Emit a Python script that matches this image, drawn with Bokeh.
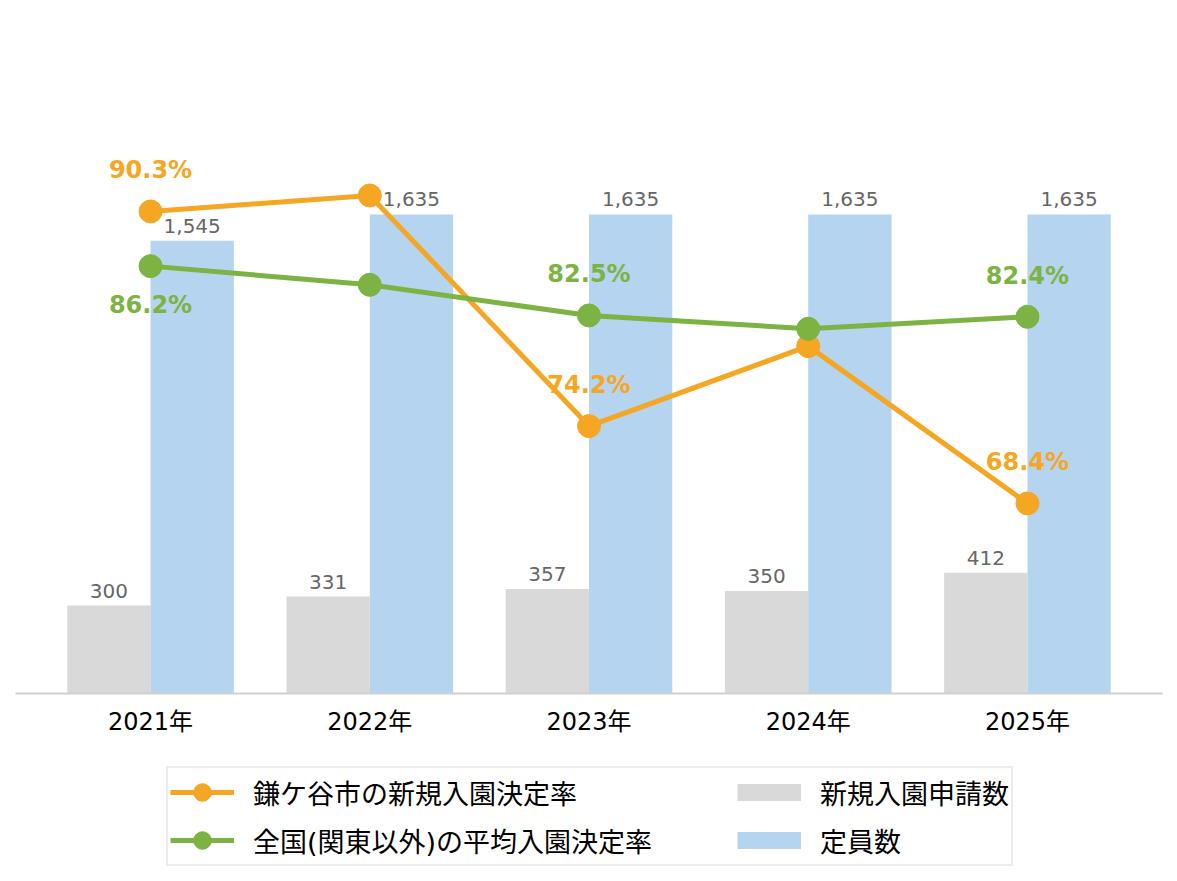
from bokeh.plotting import figure
from bokeh.layouts import column
from bokeh.models import (Range1d, ColumnDataSource, LabelSet, Legend, LegendItem,
                          FixedTicker)
from bokeh.core.properties import value
from bokeh.embed import file_html
from bokeh.resources import INLINE

# ---- data ----
years = ["2021年", "2022年", "2023年", "2024年", "2025年"]
applications = [300, 331, 357, 350, 412]          # 新規入園申請数
capacity = [1545, 1635, 1635, 1635, 1635]         # 定員数
kamagaya_rate = [90.3, 91.5, 74.2, 80.2, 68.4]    # 鎌ケ谷市の新規入園決定率 (%)
national_rate = [86.2, 84.8, 82.5, 81.5, 82.4]    # 全国(関東以外)の平均入園決定率 (%)
kamagaya_labeled = [0, 2, 4]
national_labeled = [0, 2, 4]
series_names = ["鎌ケ谷市の新規入園決定率", "全国(関東以外)の平均入園決定率",
                "新規入園申請数", "定員数"]

ORANGE = "#F5A623"
GREEN = "#7CB342"
GRAY = "#D9D9D9"
BLUE = "#B5D4EF"
FONT = "DejaVu Sans, Noto Sans CJK JP"

idx = list(range(len(years)))
bar_w = 0.38

p = figure(frame_width=1147, frame_height=586, output_backend="svg", toolbar_location=None,
           x_range=Range1d(-0.616, 4.616), y_range=Range1d(0, 2000),
           y_axis_location=None,
           min_border_left=15, min_border_right=15, min_border_top=107,
           min_border_bottom=50)
p.extra_y_ranges = {"rate": Range1d(54.14, 98.1)}
p.outline_line_color = None
p.xgrid.visible = False
p.ygrid.visible = False
p.background_fill_color = "white"
p.border_fill_color = "white"

bars = ColumnDataSource(dict(
    xg=[i - bar_w / 2 for i in idx],
    xb=[i + bar_w / 2 for i in idx],
    app=applications,
    cap=capacity,
    app_txt=[f"{v:,}" for v in applications],
    cap_txt=[f"{v:,}" for v in capacity],
))
p.vbar(x="xg", top="app", width=bar_w, source=bars, color=GRAY, line_color=None)
p.vbar(x="xb", top="cap", width=bar_w, source=bars, color=BLUE, line_color=None)

for col_x, col_y, col_t in (("xg", "app", "app_txt"), ("xb", "cap", "cap_txt")):
    p.add_layout(LabelSet(x=col_x, y=col_y, text=col_t, source=bars,
                          text_align="center", text_baseline="alphabetic",
                          y_offset=8, text_font=value("DejaVu Sans"), text_font_size="20px",
                          text_color="#666666"))

lines = ColumnDataSource(dict(x=idx, kr=kamagaya_rate, nr=national_rate))
p.line("x", "kr", source=lines, color=ORANGE, line_width=5, y_range_name="rate")
p.scatter("x", "kr", source=lines, size=23, color=ORANGE, y_range_name="rate")
p.line("x", "nr", source=lines, color=GREEN, line_width=5, y_range_name="rate")
p.scatter("x", "nr", source=lines, size=23, color=GREEN, y_range_name="rate")

k_src = ColumnDataSource(dict(
    x=kamagaya_labeled,
    y=[kamagaya_rate[i] for i in kamagaya_labeled],
    t=[f"{kamagaya_rate[i]:.1f}%" for i in kamagaya_labeled],
    off=[33 for _ in kamagaya_labeled],
))
n_src = ColumnDataSource(dict(
    x=national_labeled,
    y=[national_rate[i] for i in national_labeled],
    t=[f"{national_rate[i]:.1f}%" for i in national_labeled],
    off=[-47 if i == 0 else 33 for i in national_labeled],
))
for src, colr in ((k_src, ORANGE), (n_src, GREEN)):
    p.add_layout(LabelSet(x="x", y="y", text="t", source=src, y_range_name="rate",
                          y_offset="off", text_align="center", text_baseline="alphabetic",
                          text_font=value("DejaVu Sans"), text_font_size="24px",
                          text_font_style="bold", text_color=colr))

# x axis
ax = p.xaxis[0]
ax.ticker = FixedTicker(ticks=idx)
ax.major_label_overrides = {i: years[i] for i in idx}
ax.major_tick_line_color = None
ax.major_tick_out = 0
ax.major_tick_in = 0
ax.minor_tick_line_color = None
ax.axis_line_color = "#D0D0D0"
ax.axis_line_width = 2
ax.major_label_standoff = 14
ax.major_label_text_font = FONT
ax.major_label_text_font_size = "24px"
ax.major_label_text_color = "#000000"

# ---- legend strip (separate figure below the chart) ----
leg_h = 881 - (107 + 586 + 50)
q = figure(width=1177, height=leg_h, output_backend="svg", toolbar_location=None,
           x_range=Range1d(0, 1), y_range=Range1d(0, 1),
           x_axis_location=None, y_axis_location=None, min_border=0)
q.outline_line_color = None
q.xgrid.visible = False
q.ygrid.visible = False
nan = float("nan")
s_k = [q.line([nan], [nan], color=ORANGE, line_width=5),
       q.scatter([nan], [nan], color=ORANGE, size=23)]
s_n = [q.line([nan], [nan], color=GREEN, line_width=5),
       q.scatter([nan], [nan], color=GREEN, size=23)]
s_a = [q.line([nan], [nan], color=GRAY, line_width=17, line_cap="butt")]
s_c = [q.line([nan], [nan], color=BLUE, line_width=17, line_cap="butt")]

legend = Legend(items=[
    LegendItem(label=series_names[0], renderers=s_k),
    LegendItem(label=series_names[1] + "\u3000\u3000\u3000", renderers=s_n),
    LegendItem(label=series_names[2], renderers=s_a),
    LegendItem(label=series_names[3], renderers=s_c),
], orientation="vertical", nrows=2, location=(151, 15),
    label_text_font=FONT, label_text_font_size="27px", label_text_color="#000000",
    glyph_width=64, glyph_height=44, label_standoff=19, spacing=4, padding=2,
    border_line_color="#D9D9D9", border_line_width=2, margin=0)
q.add_layout(legend, "center")

page = column(p, q, spacing=0)
open("out.html", "w").write(file_html(page, INLINE))
